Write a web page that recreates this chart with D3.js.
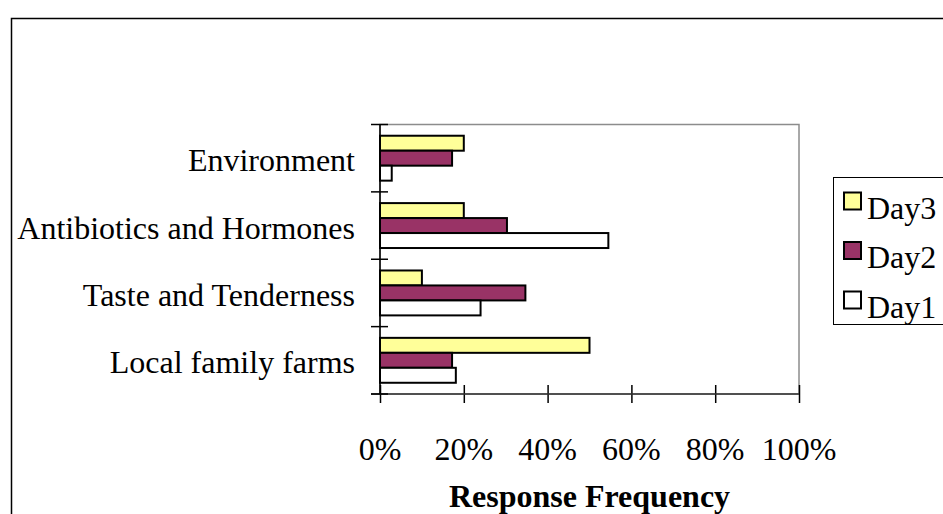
<!DOCTYPE html>
<html>
<head>
<meta charset="utf-8">
<script src="https://cdn.jsdelivr.net/npm/d3@7"></script>
<style>
  body { margin: 0; background: #fff; }
  text { font-family: "Liberation Serif", "Times New Roman", serif; fill: #000; }
</style>
</head>
<body>
<svg id="chart" width="943" height="514"></svg>
<script>
// categories listed top to bottom
var categories = ['Environment', 'Antibiotics and Hormones', 'Taste and Tenderness', 'Local family farms'];
var series_names = ['Day3', 'Day2', 'Day1'];
var day3_values = [20, 20, 10, 50];
var day2_values = [17.2, 30.3, 34.7, 17.2];
var day1_values = [2.8, 54.5, 24, 18.1];
var x_ticks = [0, 20, 40, 60, 80, 100];
var series_colors = ['#ffff99', '#993366', '#ffffff'];

var values_by_series = [day3_values, day2_values, day1_values];

var svg = d3.select('#chart');

var plot = {left: 380, right: 799, top: 124.5, bottom: 394};

var x_scale = d3.scaleLinear()
  .domain([0, 100])
  .range([plot.left, plot.right]);

var y_scale = d3.scaleBand()
  .domain(categories)
  .range([plot.top, plot.bottom])
  .padding(0);

var inner_scale = d3.scaleBand()
  .domain(series_names)
  .range([0, y_scale.bandwidth()])
  .paddingInner(0)
  .paddingOuter(0.75);

// outer chart frame
svg.append('rect')
  .attr('x', 11.5)
  .attr('y', 18.5)
  .attr('width', 960)
  .attr('height', 520)
  .style('fill', 'none')
  .style('stroke', '#000')
  .style('stroke-width', '1.5px');

// plot area border (gray)
svg.append('rect')
  .attr('x', plot.left)
  .attr('y', plot.top)
  .attr('width', plot.right - plot.left)
  .attr('height', plot.bottom - plot.top)
  .style('fill', 'none')
  .style('stroke', '#8c8c8c')
  .style('stroke-width', '1.5px');

// bars
series_names.forEach(function(s, si) {
  var rows = categories.map(function(c, ci) {
    return {cat: c, value: values_by_series[si][ci]};
  });
  svg.append('g')
    .attr('class', 'series_' + s)
    .selectAll('rect')
    .data(rows)
    .enter()
    .append('rect')
    .attr('x', x_scale(0))
    .attr('y', function(d) { return y_scale(d.cat) + inner_scale(s); })
    .attr('width', function(d) { return x_scale(d.value) - x_scale(0); })
    .attr('height', inner_scale.bandwidth())
    .style('fill', series_colors[si])
    .style('stroke', '#000')
    .style('stroke-width', '2px');
});

// x axis
var x_axis = svg.append('g')
  .attr('transform', 'translate(0,' + plot.bottom + ')')
  .call(d3.axisBottom(x_scale).tickValues(x_ticks).tickSize(9).tickSizeOuter(0).tickFormat(''));
x_axis.select('.domain').remove();
x_axis.selectAll('.tick line')
  .attr('y1', -9)
  .style('stroke', '#000')
  .style('stroke-width', '1.5px');
svg.append('line')
  .attr('x1', plot.left - 9)
  .attr('x2', plot.right)
  .attr('y1', plot.bottom)
  .attr('y2', plot.bottom)
  .style('stroke', '#333')
  .style('stroke-width', '1.5px');

svg.append('g')
  .selectAll('text')
  .data(x_ticks)
  .enter()
  .append('text')
  .attr('x', function(d) { return x_scale(d); })
  .attr('y', 460)
  .attr('text-anchor', 'middle')
  .style('font-size', '32px')
  .text(function(d) { return d + '%'; });

svg.append('text')
  .attr('x', (plot.left + plot.right) / 2)
  .attr('y', 507)
  .attr('text-anchor', 'middle')
  .style('font-size', '32px')
  .style('font-weight', 'bold')
  .text('Response Frequency');

// y axis
var y_bounds = categories.map(function(c) { return y_scale(c); }).concat([plot.bottom]);
svg.append('line')
  .attr('x1', plot.left)
  .attr('x2', plot.left)
  .attr('y1', plot.top)
  .attr('y2', plot.bottom)
  .style('stroke', '#000')
  .style('stroke-width', '1.5px');
svg.append('g')
  .selectAll('line')
  .data(y_bounds)
  .enter()
  .append('line')
  .attr('x1', plot.left - 9)
  .attr('x2', plot.left + 8)
  .attr('y1', function(d) { return d; })
  .attr('y2', function(d) { return d; })
  .style('stroke', '#000')
  .style('stroke-width', '1.5px');

svg.append('g')
  .selectAll('text')
  .data(categories)
  .enter()
  .append('text')
  .attr('x', 355)
  .attr('y', function(d) { return y_scale(d) + y_scale.bandwidth() / 2 + 13; })
  .attr('text-anchor', 'end')
  .style('font-size', '32px')
  .text(function(d) { return d; });

// legend
var legend = svg.append('g');
legend.append('rect')
  .attr('x', 833.5)
  .attr('y', 177.5)
  .attr('width', 120)
  .attr('height', 147)
  .style('fill', '#fff')
  .style('stroke', '#000')
  .style('stroke-width', '1px');

var legend_items = legend.selectAll('.legend_item')
  .data(series_names)
  .enter()
  .append('g')
  .attr('class', 'legend_item')
  .attr('transform', function(d, i) { return 'translate(844,' + (192.5 + i * 49.5) + ')'; });

legend_items.append('rect')
  .attr('width', 17)
  .attr('height', 17)
  .style('fill', function(d, i) { return series_colors[i]; })
  .style('stroke', '#000')
  .style('stroke-width', '2px');

legend_items.append('text')
  .attr('x', 23)
  .attr('y', 26)
  .style('font-size', '32px')
  .text(function(d) { return d; });
</script>
</body>
</html>
